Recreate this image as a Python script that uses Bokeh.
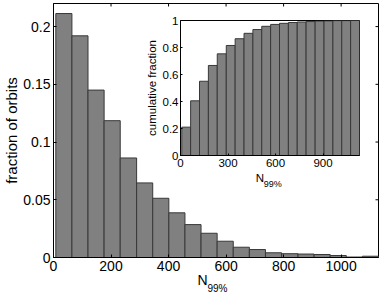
from bokeh.plotting import figure
from bokeh.models import Range1d, FixedTicker, PrintfTickFormatter, Label, Title
from bokeh.layouts import column
from bokeh.embed import file_html
from bokeh.resources import INLINE

# histogram bin edges (N_99%)
bin_edges = [8, 64, 120, 176, 232, 289, 345, 401, 457, 513, 569, 625,
             681, 737, 793, 850, 906, 962, 1018, 1074, 1130]
# fraction of orbits per bin
fraction = [0.2113, 0.192, 0.145, 0.1185, 0.0862, 0.0646, 0.0513, 0.0387,
            0.0285, 0.021, 0.0141, 0.0089, 0.0069, 0.0041, 0.0033, 0.003,
            0.0026, 0.0017, 0.0004, 0.0011]
# cumulative fraction per bin (inset)
cumulative = [0.21, 0.405, 0.55, 0.667, 0.753, 0.815, 0.865, 0.905, 0.933,
              0.957, 0.971, 0.979, 0.985, 0.989, 0.992, 0.995, 0.997, 0.999,
              0.999, 1.0]

main_xticks = [0, 200, 400, 600, 800, 1000]
main_yticks = [0, 0.05, 0.1, 0.15, 0.2]
inset_xticks = [0, 300, 600, 900]
inset_yticks = [0, 0.2, 0.4, 0.6, 0.8, 1]

X_MAX = 1130
Y_MAX_MAIN = 0.22

FONT = "Liberation Sans"
FILL = "#808080"
EDGE = "#383838"

lefts = bin_edges[:-1]
rights = bin_edges[1:]


def style_axis(ax, ticks, size, tick_len, standoff=3):
    ax.ticker = FixedTicker(ticks=ticks)
    ax.formatter = PrintfTickFormatter(format="%g")
    ax.major_tick_in = tick_len
    ax.major_tick_out = 0
    ax.minor_tick_line_color = None
    ax.major_tick_line_color = "black"
    ax.axis_line_color = "black"
    ax.major_label_text_font = FONT
    ax.major_label_text_font_size = size
    ax.major_label_text_color = "black"
    ax.major_label_standoff = standoff


# ---------------- main plot ----------------
p = figure(width=381, height=295,
           x_range=Range1d(0, X_MAX), y_range=Range1d(0, Y_MAX_MAIN),
           output_backend="svg", toolbar_location=None,
           min_border_left=53, min_border_right=2, min_border_top=3,
           min_border_bottom=38)
p.grid.visible = False
p.outline_line_color = "black"
p.background_fill_color = "white"
p.border_fill_color = "white"

p.quad(left=lefts, right=rights, bottom=0, top=fraction,
       fill_color=FILL, line_color=EDGE, line_width=1)

style_axis(p.xaxis[0], main_xticks, "14px", 3)
style_axis(p.yaxis[0], main_yticks, "14px", 3)
p.yaxis.axis_label = "fraction of orbits"
p.yaxis.axis_label_text_font = FONT
p.yaxis.axis_label_text_font_size = "15px"
p.yaxis.axis_label_text_font_style = "normal"
p.yaxis.axis_label_text_color = "black"
p.yaxis.axis_label_standoff = 0

# inward ticks on the top and right edges of the box
tick_dy = 3 / 1156
tick_dx = 3 / 0.289
p.segment(x0=main_xticks, x1=main_xticks,
          y0=[Y_MAX_MAIN] * len(main_xticks),
          y1=[Y_MAX_MAIN - tick_dy] * len(main_xticks), line_color="black")
p.segment(x0=[X_MAX] * len(main_yticks), x1=[X_MAX - tick_dx] * len(main_yticks),
          y0=main_yticks, y1=main_yticks, line_color="black")

# main x label  N_99%
p.add_layout(Title(text="N", align="left", offset=144, standoff=-7,
                   text_font=FONT, text_font_size="14px",
                   text_font_style="normal", text_color="black"), "below")
p.add_layout(Title(text="99%", align="left", offset=154, standoff=-7,
                   text_font=FONT, text_font_size="10px",
                   text_font_style="normal", text_color="black"), "below")

# inset x label (sits inside the main frame, below the inset)
p.add_layout(Label(x=703, y=0.069, text="N", text_font=FONT,
                   text_font_size="11.5px", text_baseline="alphabetic",
                   text_color="black"))
p.add_layout(Label(x=731, y=0.064, text="99%", text_font=FONT,
                   text_font_size="9px", text_baseline="alphabetic",
                   text_color="black"))

# ---------------- inset ----------------
q = figure(width=235, height=176,
           x_range=Range1d(0, X_MAX), y_range=Range1d(0, 1),
           output_backend="svg", toolbar_location=None,
           min_border_left=52, min_border_right=3, min_border_top=6,
           min_border_bottom=35, margin=(-281, 0, 0, 127))
q.grid.visible = False
q.outline_line_color = "black"
q.background_fill_color = "white"
q.border_fill_color = None

q.quad(left=lefts, right=rights, bottom=0, top=cumulative,
       fill_color=FILL, line_color=EDGE, line_width=1)

style_axis(q.xaxis[0], inset_xticks, "11.5px", 2, standoff=3)
style_axis(q.yaxis[0], inset_yticks, "11.5px", 2, standoff=2)
q.yaxis.axis_label = "cumulative fraction"
q.yaxis.axis_label_text_font = FONT
q.yaxis.axis_label_text_font_size = "11.5px"
q.yaxis.axis_label_text_font_style = "normal"
q.yaxis.axis_label_text_color = "black"
q.yaxis.axis_label_standoff = 2

layout = column(p, q)
open("out.html", "w").write(file_html(layout, INLINE))
